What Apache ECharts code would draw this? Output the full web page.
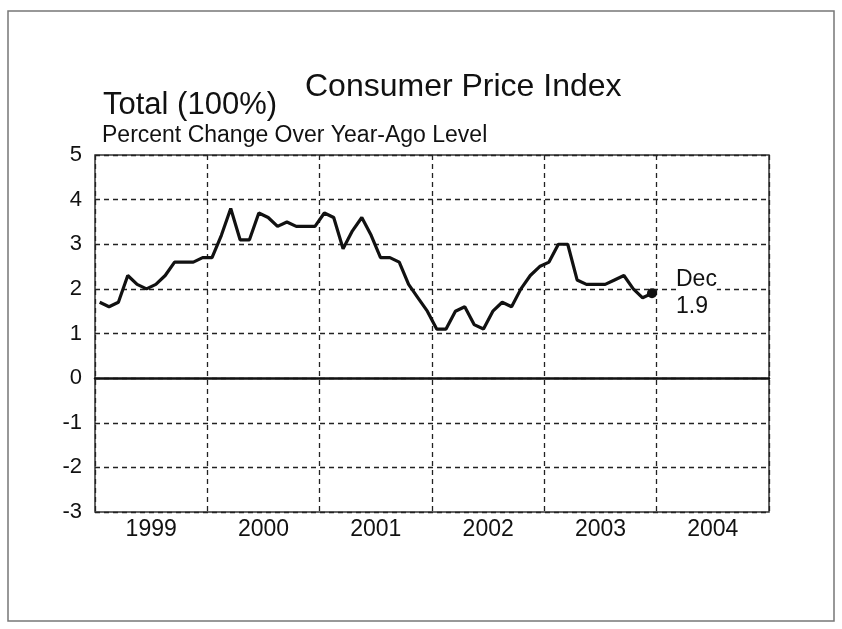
<!DOCTYPE html>
<html lang="en">
<head>
    <meta charset="UTF-8">
    <title>Consumer Price Index</title>
    <script src="https://cdn.jsdelivr.net/npm/echarts@6/dist/echarts.min.js"></script>
    <style>
        html, body { margin: 0; padding: 0; background: #fff; }
        #main { width: 842px; height: 629px; }
    </style>
</head>
<body>
<div id="main"></div>
<script>
    // 数据
    var years = ['1999', '2000', '2001', '2002', '2003', '2004'];
    var monthNames = ['Jan', 'Feb', 'Mar', 'Apr', 'May', 'Jun', 'Jul', 'Aug', 'Sep', 'Oct', 'Nov', 'Dec'];
    var cpi1999 = [1.7, 1.6, 1.7, 2.3, 2.1, 2.0, 2.1, 2.3, 2.6, 2.6, 2.6, 2.7];
    var cpi2000 = [2.7, 3.2, 3.8, 3.1, 3.1, 3.7, 3.6, 3.4, 3.5, 3.4, 3.4, 3.4];
    var cpi2001 = [3.7, 3.6, 2.9, 3.3, 3.6, 3.2, 2.7, 2.7, 2.6, 2.1, 1.8, 1.5];
    var cpi2002 = [1.1, 1.1, 1.5, 1.6, 1.2, 1.1, 1.5, 1.7, 1.6, 2.0, 2.3, 2.5];
    var cpi2003 = [2.6, 3.0, 3.0, 2.2, 2.1, 2.1, 2.1, 2.2, 2.3, 2.0, 1.8, 1.9];
    var yTicks = [-3, -2, -1, 0, 1, 2, 3, 4, 5];

    var months = [];
    years.forEach(function (y) {
        monthNames.forEach(function (m) { months.push(m + ' ' + y); });
    });
    var values = [].concat(cpi1999, cpi2000, cpi2001, cpi2002, cpi2003);
    var last = values.length - 1;

    var font = '"Liberation Sans", Arial, sans-serif';
    var ink = '#111';
    var gridLine = { color: '#222', width: 1.3, type: [5, 4] };

    var myChart = echarts.init(document.getElementById('main'));
    var option = {
        backgroundColor: '#fff',
        animation: false,
        textStyle: { fontFamily: font, color: ink },
        title: [
            { text: 'Consumer Price Index', left: 300, top: 66,
              textStyle: { fontSize: 32, fontWeight: 'normal', color: ink, fontFamily: font } },
            { text: 'Total (100%)', left: 98, top: 85,
              textStyle: { fontSize: 31, fontWeight: 'normal', color: ink, fontFamily: font } },
            { text: 'Percent Change Over Year-Ago Level', left: 97, top: 119,
              textStyle: { fontSize: 23, fontWeight: 'normal', color: ink, fontFamily: font } }
        ],
        graphic: [{
            type: 'rect',
            shape: { x: 8, y: 11, width: 826, height: 610 },
            style: { fill: null, stroke: '#777', lineWidth: 1.5 },
            silent: true
        }],
        grid: {
            left: 95, right: 73, top: 155, bottom: 117,
            show: true, borderColor: '#333', borderWidth: 1.5, backgroundColor: 'transparent'
        },
        xAxis: [{
            type: 'category',
            data: months,
            boundaryGap: true,
            axisLine: { onZero: true, lineStyle: { color: ink, width: 2.5 } },
            axisTick: { show: false },
            axisLabel: { show: false },
            splitLine: { show: true, interval: 11, lineStyle: gridLine }
        }, {
            type: 'category',
            data: years,
            position: 'bottom',
            boundaryGap: true,
            axisLine: { show: false },
            axisTick: { show: false },
            axisLabel: { fontSize: 23, color: ink, fontFamily: font, margin: 6 },
            splitLine: { show: false }
        }],
        yAxis: {
            type: 'value',
            min: yTicks[0],
            max: yTicks[yTicks.length - 1],
            interval: 1,
            axisLine: { show: false },
            axisTick: { show: false },
            axisLabel: { fontSize: 22, color: ink, fontFamily: font, margin: 13 },
            splitLine: { show: true, lineStyle: gridLine }
        },
        series: [{
            name: 'CPI',
            type: 'line',
            xAxisIndex: 0,
            data: values,
            symbol: 'circle',
            symbolSize: function (v, p) { return p.dataIndex === last ? 10 : 0; },
            showAllSymbol: true,
            itemStyle: { color: ink },
            lineStyle: { color: ink, width: 3.2 },
            endLabel: {
                show: true,
                distance: 24,
                formatter: function (p) { return 'Dec\n' + p.value; },
                fontSize: 23,
                lineHeight: 27,
                color: ink,
                fontFamily: font,
                backgroundColor: '#fff'
            }
        }]
    };
    myChart.setOption(option);
</script>
</body>
</html>
